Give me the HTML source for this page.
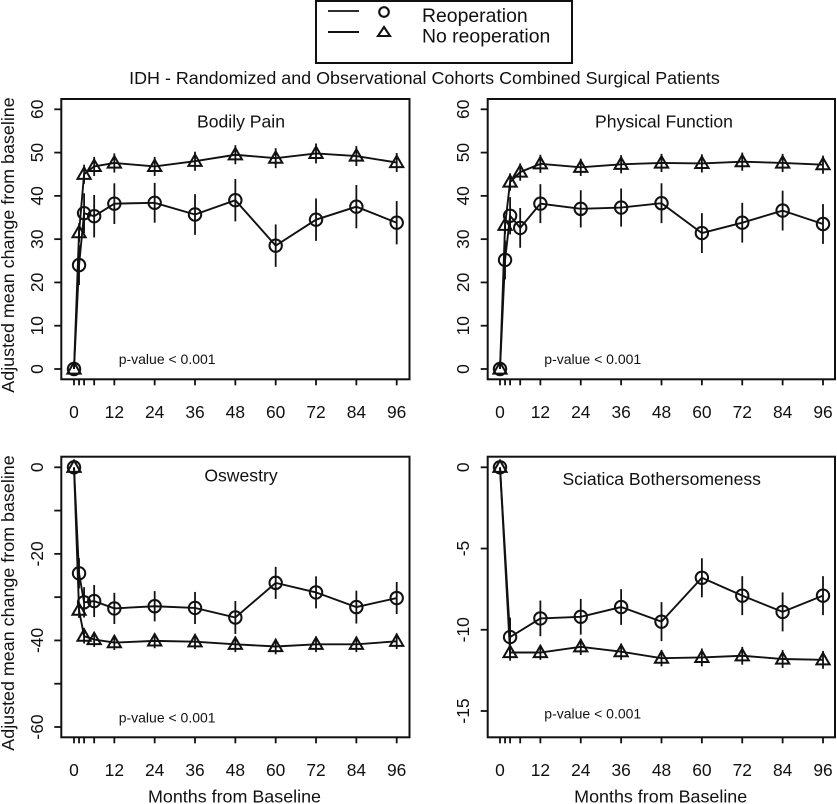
<!DOCTYPE html>
<html lang="en">
<head>
<meta charset="utf-8">
<title>IDH - Randomized and Observational Cohorts Combined Surgical Patients</title>
<style>
html,body{margin:0;padding:0;background:#fff;width:837px;height:804px;overflow:hidden}
svg{display:block}
text{font-family:"Liberation Sans",sans-serif;fill:#111}
</style>
</head>
<body>
<svg id="chart" xmlns="http://www.w3.org/2000/svg" width="837" height="804" viewBox="0 0 837 804">
  <g>
    <rect x="316" y="1" width="256" height="62" fill="#fff" stroke="#111" stroke-width="2"/>
    <line x1="328" x2="359" y1="11" y2="11" stroke="#111" stroke-width="1.7"/>
    <line x1="328" x2="359" y1="32" y2="32" stroke="#111" stroke-width="1.9"/>
    <circle cx="384" cy="12" r="4.8" fill="none" stroke="#111" stroke-width="2.1"/>
    <polygon points="384,27 390,36 378,36" fill="none" stroke="#111" stroke-width="2.1"/>
    <text x="422" y="22" font-size="19.4">Reoperation</text>
    <text x="422" y="42.5" font-size="19.4">No reoperation</text>
  </g>
  <text x="424.5" y="84" font-size="17.9" text-anchor="middle">IDH - Randomized and Observational Cohorts Combined Surgical Patients</text>
</svg>
<script>
var axisMonths = [0, 1.5, 3, 6, 12, 24, 36, 48, 60, 72, 84, 96];
var xTickLabels = [0, 12, 24, 36, 48, 60, 72, 84, 96];
var monthsFull = [0, 1.5, 3, 6, 12, 24, 36, 48, 60, 72, 84, 96];
var monthsSciatica = [0, 3, 12, 24, 36, 48, 60, 72, 84, 96];

var painTicks = [0, 10, 20, 30, 40, 50, 60];
var painReop = [0, 24, 36, 35.3, 38.2, 38.4, 35.7, 39, 28.5, 34.5, 37.5, 33.8];
var painReopErr = [0, 4.6, 4.6, 4.9, 4.7, 4.6, 4.7, 4.9, 4.9, 4.9, 5, 5];
var painNone = [0, 31.5, 45, 46.8, 47.6, 46.8, 48, 49.5, 48.7, 49.8, 49.2, 47.7];
var painNoneErr = [0, 2.2, 2.2, 2.2, 2.2, 2.2, 2.2, 2.2, 2.3, 2.3, 2.3, 2.2];

var physicalTicks = [0, 10, 20, 30, 40, 50, 60];
var physicalReop = [0, 25.2, 35.4, 32.6, 38.2, 37, 37.3, 38.3, 31.4, 33.8, 36.6, 33.5];
var physicalReopErr = [0, 4.5, 4.3, 4.6, 4.5, 4.3, 4.4, 4.6, 4.6, 4.6, 4.6, 4.6];
var physicalNone = [0, 33.2, 43.2, 45.5, 47.4, 46.6, 47.3, 47.6, 47.5, 47.9, 47.6, 47.2];
var physicalNoneErr = [0, 2, 2, 2, 2.1, 2, 2.1, 2.1, 2.1, 2.1, 2.1, 2.1];

var oswestryTicks = [0, -10, -20, -30, -40, -50, -60];
var oswestryLabels = [0, -20, -40, -60];
var oswestryReop = [0, -24.5, -31.2, -30.9, -32.6, -32.1, -32.5, -34.7, -26.7, -28.9, -32.3, -30.2];
var oswestryReopErr = [0, 3.5, 3.5, 3.7, 3.6, 3.5, 3.7, 3.8, 3.7, 3.7, 3.8, 3.7];
var oswestryNone = [0, -33, -39, -39.8, -40.5, -40.1, -40.3, -40.9, -41.4, -40.9, -40.9, -40.2];
var oswestryNoneErr = [0, 1.8, 1.7, 1.7, 1.7, 1.7, 1.7, 1.8, 1.8, 1.8, 1.8, 1.8];

var sciaticaTicks = [0, -5, -10, -15];
var sciaticaReop = [0, -10.45, -9.3, -9.2, -8.6, -9.5, -6.8, -7.9, -8.9, -7.9];
var sciaticaReopErr = [0, 1.2, 1.1, 1.1, 1.1, 1.2, 1.2, 1.2, 1.2, 1.2];
var sciaticaNone = [0, -11.4, -11.4, -11.05, -11.35, -11.75, -11.7, -11.6, -11.8, -11.85];
var sciaticaNoneErr = [0, 0.5, 0.45, 0.5, 0.5, 0.5, 0.55, 0.55, 0.55, 0.55];

var svg = document.getElementById('chart');
var NS = 'http://www.w3.org/2000/svg';

function make(tag, parent, props, txt) {
  var el = document.createElementNS(NS, tag);
  for (var k in props) el.setAttribute(k, props[k]);
  if (txt !== undefined) el.textContent = txt;
  parent.appendChild(el);
  return el;
}

function drawSeries(group, months, values, errs, xAt, yAt, kind) {
  var pts = [];
  months.forEach(function (m, i) { pts.push(xAt(m).toFixed(2) + ',' + yAt(values[i]).toFixed(2)); });
  var line = make('polyline', group, {points: pts.join(' '), fill: 'none', stroke: '#111', 'stroke-width': 1.9});
  
  
  months.forEach(function (m, i) {
    var x = xAt(m), y = yAt(values[i]);
    if (errs[i] > 0) {
      var bar = make('line', group, {x1: x, x2: x, y1: yAt(values[i] + errs[i]), y2: yAt(values[i] - errs[i]), stroke: '#111', 'stroke-width': 1.8});
      
      
    }
    var mark;
    if (kind === 'reoperation') {
      mark = make('circle', group, {cx: x, cy: y, r: 6.2, fill: 'none', stroke: '#111', 'stroke-width': 2});
    } else {
      var p = (x) + ',' + (y - 6.8) + ' ' + (x + 6.6) + ',' + (y + 4.6) + ' ' + (x - 6.6) + ',' + (y + 4.6);
      mark = make('polygon', group, {points: p, fill: 'none', stroke: '#111', 'stroke-width': 2});
    }
    
    
  });
}

function drawPanel(c) {
  var g = make('g', svg, {});
  
  

  var xAt = function (m) { return c.x0 + (c.x96 - c.x0) * m / 96; };
  var yAt = function (v) { return c.yA + (c.yB - c.yA) * (v - c.vA) / (c.vB - c.vA); };

  var box = make('rect', g, {x: c.left, y: c.top, width: c.right - c.left, height: c.bottom - c.top, fill: 'none', stroke: '#111', 'stroke-width': 2});
  
  

  axisMonths.forEach(function (m) {
    var t = make('line', g, {x1: xAt(m), x2: xAt(m), y1: c.bottom, y2: c.bottom + 6, stroke: '#111', 'stroke-width': 1.8});
    
    
  });
  c.ticks.forEach(function (v) {
    var t = make('line', g, {x1: c.left - 7, x2: c.left, y1: yAt(v), y2: yAt(v), stroke: '#111', 'stroke-width': 1.8});
    
    
  });
  c.labels.forEach(function (v) {
    var y = yAt(v);
    var t = make('text', g, {x: c.tickX, y: y, 'font-size': 17.4, 'text-anchor': 'middle', transform: 'rotate(-90 ' + c.tickX + ' ' + y + ')'}, String(v));
    
    
  });
  if (c.showX) {
    xTickLabels.forEach(function (m) {
      var t = make('text', g, {x: xAt(m), y: c.xLabelY, 'font-size': 17.4, 'text-anchor': 'middle'}, String(m));
      
      
    });
  }
  if (c.xTitleX) {
    var xt = make('text', g, {x: c.xTitleX, y: 802.5, 'font-size': 17.9, 'text-anchor': 'middle'}, 'Months from Baseline');
    
    
  }
  if (c.yTitleY) {
    var yt = make('text', g, {x: 14, y: c.yTitleY, 'font-size': 17.9, 'text-anchor': 'middle', transform: 'rotate(-90 14 ' + c.yTitleY + ')'}, 'Adjusted mean change from baseline');
    
    
  }
  var title = make('text', g, {x: c.titleX, y: c.titleY, 'font-size': 17.6, 'text-anchor': 'middle'}, c.title);
  
  
  var pv = make('text', g, {x: c.pX, y: c.pY, 'font-size': 14}, 'p-value < 0.001');
  
  

  drawSeries(g, c.months, c.reop, c.reopErr, xAt, yAt, 'reoperation');
  drawSeries(g, c.months, c.none, c.noneErr, xAt, yAt, 'no-reoperation');
}

drawPanel({name: 'bodily-pain', title: 'Bodily Pain', titleX: 241, titleY: 127.7, pX: 118.7, pY: 364,
  left: 61.3, right: 409.5, top: 99, bottom: 379.3, x0: 74, x96: 396.7, yA: 369, vA: 0, yB: 109.3, vB: 60,
  ticks: painTicks, labels: painTicks, tickX: 43, showX: true, xLabelY: 418, yTitleY: 245,
  months: monthsFull, reop: painReop, reopErr: painReopErr, none: painNone, noneErr: painNoneErr});

drawPanel({name: 'physical-function', title: 'Physical Function', titleX: 664, titleY: 127.7, pX: 544.3, pY: 364,
  left: 487.7, right: 835, top: 99, bottom: 379.3, x0: 500, x96: 823, yA: 369, vA: 0, yB: 109.3, vB: 60,
  ticks: physicalTicks, labels: physicalTicks, tickX: 469, showX: true, xLabelY: 418,
  months: monthsFull, reop: physicalReop, reopErr: physicalReopErr, none: physicalNone, noneErr: physicalNoneErr});

drawPanel({name: 'oswestry', title: 'Oswestry', titleX: 241, titleY: 481.7, pX: 118.7, pY: 722.7,
  left: 61.3, right: 409.5, top: 456.7, bottom: 737.3, x0: 74, x96: 396.7, yA: 467.3, vA: 0, yB: 727, vB: -60,
  ticks: oswestryTicks, labels: oswestryLabels, tickX: 43, showX: true, xLabelY: 776, xTitleX: 234.5, yTitleY: 603,
  months: monthsFull, reop: oswestryReop, reopErr: oswestryReopErr, none: oswestryNone, noneErr: oswestryNoneErr});

drawPanel({name: 'sciatica-bothersomeness', title: 'Sciatica Bothersomeness', titleX: 661.7, titleY: 485, pX: 544.3, pY: 718.7,
  left: 487.7, right: 835, top: 456.7, bottom: 737.3, x0: 500, x96: 823, yA: 467.3, vA: 0, yB: 711, vB: -15,
  ticks: sciaticaTicks, labels: sciaticaTicks, tickX: 469, showX: true, xLabelY: 776, xTitleX: 660.7,
  months: monthsSciatica, reop: sciaticaReop, reopErr: sciaticaReopErr, none: sciaticaNone, noneErr: sciaticaNoneErr});
</script>
</body>
</html>
